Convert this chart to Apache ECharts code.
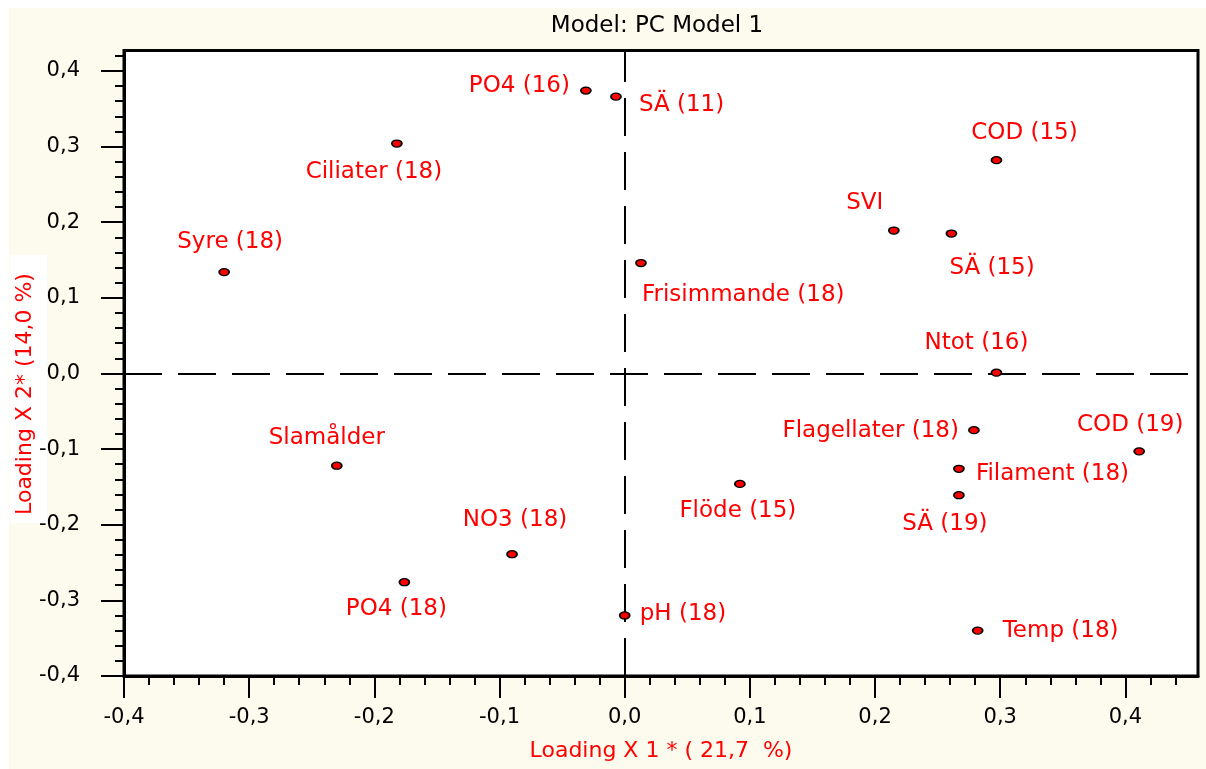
<!DOCTYPE html>
<html>
<head>
<meta charset="utf-8">
<script src="https://cdn.jsdelivr.net/npm/echarts@6/dist/echarts.min.js"></script>
<style>
html,body{margin:0;padding:0;background:#fff;}
#chart{width:1206px;height:769px;}
</style>
</head>
<body>
<div id="chart"></div>
<script>
// ---- data ----
const names = ['PO4 (16)', 'SÄ (11)', 'Ciliater (18)', 'Syre (18)', 'Frisimmande (18)', 'COD (15)', 'SVI', 'SÄ (15)', 'Ntot (16)', 'Slamålder', 'NO3 (18)', 'PO4 (18)', 'pH (18)', 'Flagellater (18)', 'Filament (18)', 'SÄ (19)', 'COD (19)', 'Flöde (15)', 'Temp (18)'];
const xLoadings = [-0.031, -0.007, -0.182, -0.320, 0.013, 0.297, 0.215, 0.261, 0.297, -0.230, -0.090, -0.176, 0.000, 0.279, 0.267, 0.267, 0.411, 0.092, 0.282];
const yLoadings = [0.374, 0.366, 0.304, 0.134, 0.146, 0.282, 0.189, 0.185, 0.001, -0.122, -0.239, -0.276, -0.320, -0.075, -0.126, -0.161, -0.103, -0.146, -0.340];
const xTicks = [-0.4, -0.3, -0.2, -0.1, 0.0, 0.1, 0.2, 0.3, 0.4];
const yTicks = [-0.4, -0.3, -0.2, -0.1, 0.0, 0.1, 0.2, 0.3, 0.4];
const titleText = 'Model: PC Model 1';
const xName = 'Loading X 1 * ( 21,7  %)';
const yName = 'Loading X 2* (14,0 %)';

// ---- label placement (style only): [align, dx, dy] ----
const labelPlacement = [
  ['right', -16, -5], ['left', 23, 8], ['center', -23, 29], ['center', 6, -30],
  ['left', 1, 32], ['center', 28, -27], ['center', -29, -27], ['left', -2, 34],
  ['center', -20, -30], ['center', -10, -28], ['center', 3, -34], ['center', -8, 27],
  ['left', 15, -1], ['right', -15, 1], ['left', 17, 5], ['center', -14, 29],
  ['center', -9, -26], ['center', -2, 27], ['left', 25, 0]
];

const fmt = v => (Math.round(v * 10) / 10).toFixed(1).replace('.', ',').replace('-0,0', '0,0');
const FONT = 'DejaVu Sans';

const XMIN = -0.4, XMAX = 0.458, YMIN = -0.4, YMAX = 0.427;
// minor tick positions (axis decoration every 0.02)
const minorX = [], minorY = [];
for (let k = 0; -0.4 + k * 0.02 <= XMAX + 1e-9; k++) minorX.push(Math.round((-0.4 + k * 0.02) * 1000) / 1000);
for (let k = 0; -0.4 + k * 0.02 <= YMAX + 1e-9; k++) minorY.push(Math.round((-0.4 + k * 0.02) * 1000) / 1000);

const points = names.map((n, i) => ({
  name: n,
  value: [xLoadings[i], yLoadings[i]],
  label: {
    show: true,
    position: 'inside',
    align: labelPlacement[i][0],
    verticalAlign: 'middle',
    offset: [labelPlacement[i][1], labelPlacement[i][2]],
    formatter: n,
    color: '#ff0000',
    fontSize: 23,
    fontFamily: FONT
  }
}));

const chart = echarts.init(document.getElementById('chart'), null, {renderer: 'canvas'});
chart.setOption({
  backgroundColor: '#ffffff',
  animation: false,
  graphic: [
    {type: 'rect', z: -100, shape: {x: 9, y: 8, width: 1197, height: 761}, style: {fill: '#fdfaee'}},
    {type: 'rect', z: -90, shape: {x: 10, y: 255, width: 37, height: 268}, style: {fill: '#ffffff'}},
    {type: 'text', z: 10, x: 657, y: 26, style: {text: titleText, fill: '#000', font: '23px "DejaVu Sans"', align: 'center', verticalAlign: 'middle'}},
    {type: 'text', z: 10, x: 25, y: 394, rotation: Math.PI / 2, style: {text: yName, fill: '#ff0000', font: '22px "DejaVu Sans"', align: 'center', verticalAlign: 'middle'}}
  ],
  grid: {
    left: 124, right: 8, top: 50.5, bottom: 93,
    show: true, backgroundColor: '#ffffff', borderColor: '#000', borderWidth: 3
  },
  xAxis: [
    {
      type: 'value', min: XMIN, max: XMAX, interval: 0.1, position: 'bottom',
      name: xName, nameLocation: 'middle', nameGap: 64,
      nameTextStyle: {color: '#ff0000', fontSize: 22, fontFamily: FONT},
      axisLine: {show: true, onZero: false, lineStyle: {color: '#000', width: 3}},
      axisTick: {show: true, inside: false, length: 22, customValues: xTicks, lineStyle: {color: '#000', width: 2}},
      axisLabel: {show: true, customValues: xTicks, margin: 31, color: '#000', fontSize: 21, fontFamily: FONT, formatter: fmt},
      splitLine: {show: false}
    },
    {
      type: 'value', min: XMIN, max: XMAX, interval: 0.02, position: 'bottom',
      axisLine: {show: false, onZero: false},
      axisTick: {show: true, inside: false, length: 9, customValues: minorX, lineStyle: {color: '#000', width: 2}},
      axisLabel: {show: false},
      splitLine: {show: false}
    }
  ],
  yAxis: [
    {
      type: 'value', min: YMIN, max: YMAX, interval: 0.1, position: 'left',
      axisLine: {show: true, onZero: false, lineStyle: {color: '#000', width: 3}},
      axisTick: {show: true, inside: false, length: 23, customValues: yTicks, lineStyle: {color: '#000', width: 2}},
      axisLabel: {show: true, customValues: yTicks, margin: 44, color: '#000', fontSize: 21, fontFamily: FONT, formatter: fmt},
      splitLine: {show: false}
    },
    {
      type: 'value', min: YMIN, max: YMAX, interval: 0.02, position: 'left',
      axisLine: {show: false, onZero: false},
      axisTick: {show: true, inside: false, length: 9, customValues: minorY, lineStyle: {color: '#000', width: 2}},
      axisLabel: {show: false},
      splitLine: {show: false}
    }
  ],
  series: [{
    type: 'scatter',
    xAxisIndex: 0, yAxisIndex: 0,
    symbol: 'circle',
    symbolSize: [10, 7],
    itemStyle: {color: '#ff0000', borderColor: '#000', borderWidth: 1.5, opacity: 1},
    data: points,
    markLine: {
      silent: true,
      symbol: ['none', 'none'],
      label: {show: false},
      lineStyle: {color: '#000', width: 2, type: [38, 16]},
      data: [{xAxis: 0}, {yAxis: 0}],
      z: 1
    },
    z: 5
  }]
});
</script>
</body>
</html>
